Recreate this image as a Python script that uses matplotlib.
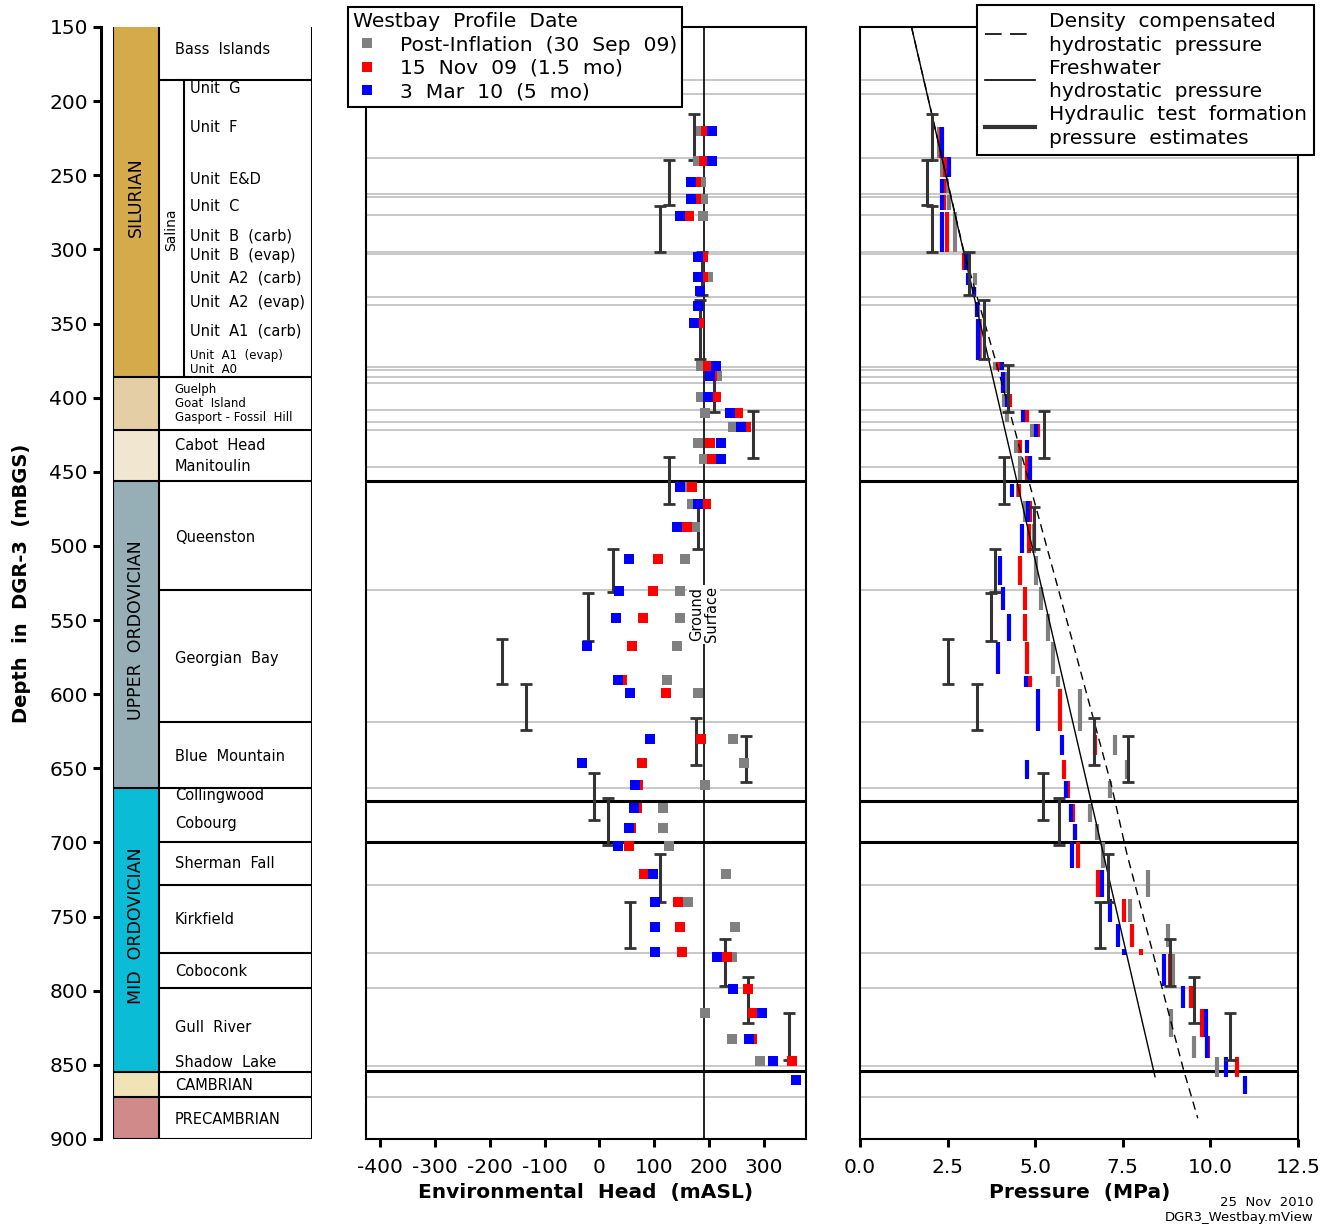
"""
DGR-3 Westbay profiles: environmental head and pressure versus depth,
with the stratigraphic column on the left.
"""

import numpy as np
import matplotlib.pyplot as plt
from matplotlib.lines import Line2D

plt.rcParams['font.family'] = ['DejaVu Sans']
plt.rcParams['axes.unicode_minus'] = False

# Westbay monitoring zones (mBGS): port depth and zone bottom
port_depth = np.array([219.9, 240.4, 254.8, 265.8, 277.5, 304.9, 318.4, 327.8, 338.2, 349.4,
                       378.4, 385.4, 399.8, 410.6, 420.0, 430.8, 441.6, 460.5, 471.9, 487.4,
                       509.0, 530.4, 548.4, 567.5, 590.4, 599.0, 630.0, 646.6, 661.2, 676.5,
                       690.0, 702.2, 721.2, 740.3, 757.2, 774.1, 777.5, 799.0, 814.8, 832.8,
                       847.2, 860.2])
zone_bottom = np.array([238.6, 251.0, 261.7, 273.4, 301.5, 313.9, 324.0, 332.0, 345.4, 374.6,
                        381.3, 397.0, 406.0, 416.2, 426.3, 437.3, 455.5, 466.8, 483.6, 504.8,
                        526.3, 543.2, 563.9, 586.4, 595.0, 624.8, 641.0, 657.2, 670.2, 686.0,
                        698.5, 717.4, 736.6, 753.4, 770.3, 775.9, 797.0, 811.8, 831.0, 845.6,
                        857.9, 869.4])

nan = np.nan
# Environmental head (mASL)
head_post = np.array([185, 180, 186, 189, 189, 185, 197, 183, 179, 178,
                      185, 215, 185, 192, 243, 180, 191, 165, 169, 174,
                      156, 147, 147, 141, 124, 179, 244, 263, 192, 116,
                      116, 127, 231, 161, 247, nan, 241, nan, 192, 241,
                      293, nan])
head_nov = np.array([195, 191, 176, 176, 164, 188, 188, 183, 179, 182,
                     197, 205, 212, 252, 268, 202, 205, 169, 195, 159,
                     107, 98, 79, 59, 41, 121, 185, 78, 70, 68,
                     57, 53, 81, 144, 147, 150, 232, 270, 280, 278,
                     351, nan])
head_mar = np.array([205, 205, 166, 166, 147, 179, 179, 183, 179, 172,
                     212, 202, 198, 238, 258, 221, 221, 147, 179, 141,
                     53, 36, 30, -22, 33, 56, 92, -31, 65, 63,
                     53, 33, 98, 101, 101, 101, 214, 244, 296, 273,
                     316, 358])

# Formation pressure (MPa)
pres_post = np.array([2.25, 2.33, 2.47, 2.55, 2.71, 3.05, 3.28, 3.26, 3.36, 3.42,
                      3.85, 4.15, 4.10, 4.20, 4.90, 4.45, 4.57, 4.50, 4.70, 4.97,
                      5.02, 5.17, 5.37, 5.52, 5.66, 6.28, 7.28, 7.62, 7.13, 6.56,
                      6.75, 6.93, 8.21, 7.71, 8.78, nan, 8.92, nan, 8.88, 9.53,
                      10.20, nan])
pres_nov = np.array([2.30, 2.43, 2.40, 2.40, 2.47, 2.98, 3.12, 3.24, 3.34, 3.40,
                     3.93, 4.07, 4.28, 4.76, 5.08, 4.57, 4.76, 4.55, 4.85, 4.83,
                     4.57, 4.71, 4.71, 4.76, 4.84, 5.71, 6.70, 5.83, 5.95, 6.08,
                     6.15, 6.23, 6.80, 7.54, 7.75, 8.01, 8.85, 9.46, 9.75, 9.93,
                     10.75, nan])
pres_mar = np.array([2.33, 2.54, 2.33, 2.33, 2.33, 3.02, 3.09, 3.24, 3.33, 3.38,
                     4.04, 4.07, 4.20, 4.66, 5.02, 4.76, 4.85, 4.33, 4.80, 4.61,
                     4.00, 4.09, 4.26, 3.95, 4.75, 5.07, 5.76, 4.76, 5.88, 6.02,
                     6.14, 6.04, 6.90, 7.13, 7.35, 7.52, 8.69, 9.23, 9.87, 9.89,
                     10.45, 11.00])

# Hydraulic test intervals (mBGS) with head and formation pressure estimates
test_top = np.array([209, 240, 271, 302, 334, 378, 409, 440, 474, 502, 532,
                     563, 593, 616, 628, 653, 670, 708, 740, 765, 791, 815])
test_bot = np.array([240, 270, 302, 331, 374, 410, 441, 472, 502, 531, 564,
                     593, 624, 648, 659, 685, 702, 740, 771, 797, 822, 847])
test_head = np.array([172, 127, 110, 187, 183, 209, 279, 127, 179, 25, -20,
                      -178, -133, 176, 267, -10, 16, 110, 56, 228, 270, 346])
test_pres = np.array([2.06, 1.90, 2.06, 3.11, 3.54, 4.23, 5.25, 4.12, 4.97, 3.85, 3.74,
                      2.52, 3.33, 6.69, 7.66, 5.23, 5.68, 7.07, 6.85, 8.85, 9.53, 10.56])

# Hydrostatic profiles
fresh_depth = [150, 858]
fresh_pres = [1.47, 8.42]
dens_depth = [150, 300, 380, 447, 550, 662, 707, 853, 886]
dens_pres = [1.47, 2.95, 3.93, 4.71, 5.90, 7.18, 7.61, 9.23, 9.64]

ground_surface = 190  # mASL

# Formation boundaries drawn across the data panels
grey_bounds = [185.7, 195.2, 238.4, 262.6, 264.7, 276.8, 301.6, 303.0, 332.1, 337.5,
               379.3, 381.3, 386.1, 390.1, 408.3, 416.4, 421.8, 446.8, 529.7, 618.7,
               663.2, 728.7, 774.5, 798.1, 850.7, 871.6]
black_bounds = [456, 672, 700, 854]

# Stratigraphic column
period_top = [150, 386, 422, 456, 663, 855, 871.7]
period_bot = [386, 422, 456, 663, 855, 871.7, 900]
period_colors = ['#D4AA4B', '#E3CFA3', '#F1E6CF', '#96AEB6', '#0ABCD6', '#F0E3B5', '#D08A8A']
period_names = ['SILURIAN', '', '', 'UPPER  ORDOVICIAN', 'MID  ORDOVICIAN', '', '']
unit_bounds = [185.7, 529.7, 618.5, 700, 728.9, 774.7, 798.4]
formation_names = ['Bass  Islands', 'Cabot  Head', 'Manitoulin', 'Queenston', 'Georgian  Bay',
                   'Blue  Mountain', 'Collingwood', 'Cobourg', 'Sherman  Fall', 'Kirkfield',
                   'Coboconk', 'Gull  River', 'Shadow  Lake', 'CAMBRIAN', 'PRECAMBRIAN']
formation_depth = [165.5, 432, 446.7, 494.6, 576, 642,
                   668, 687.5, 714.5, 752, 787, 825, 848.7, 864, 887]
niagaran_names = ['Guelph', 'Goat  Island', 'Gasport - Fossil  Hill']
niagaran_depth = [394.5, 403.8, 413.1]
salina_units = ['Unit  G', 'Unit  F', 'Unit  E&D', 'Unit  C', 'Unit  B  (carb)', 'Unit  B  (evap)',
                'Unit  A2  (carb)', 'Unit  A2  (evap)', 'Unit  A1  (carb)', 'Unit  A1  (evap)',
                'Unit  A0']
salina_depth = [191.8, 218, 253, 271, 291, 304, 319.5, 336, 355, 371.5, 381]

W, H = 1335, 1228
fig = plt.figure(figsize=(W / 100, H / 100), dpi=100)


def px_axes(x0, x1, y0=27, y1=1139):
    return fig.add_axes([x0 / W, 1 - y1 / H, (x1 - x0) / W, (y1 - y0) / H])


# ---- stratigraphic column ----
ax_s = px_axes(113, 312)
ax_s.set_xlim(0, 1)
ax_s.set_ylim(900, 150)
col_x = 0.231
sal_x = 0.357
for top, bot, c, name in zip(period_top, period_bot, period_colors, period_names):
    ax_s.fill_between([0, col_x], top, bot, color=c, lw=0)
    ax_s.plot([0, 1], [bot, bot], color='black', lw=1.5)
    if name:
        ax_s.text(col_x / 2, (top + bot) / 2 - 3, name, rotation=90, ha='center',
                  va='center', fontsize=12.5)
for b in unit_bounds:
    ax_s.plot([col_x, 1], [b, b], color='black', lw=1.5)
for xv in [0, col_x, 1]:
    ax_s.plot([xv, xv], [150, 900], color='black', lw=1.5)
ax_s.plot([sal_x, sal_x], [185.7, 386], color='black', lw=1.5)
ax_s.text((col_x + sal_x) / 2, 287, 'Salina', rotation=90, ha='center', va='center',
          fontsize=10)
for name, d in zip(formation_names, formation_depth):
    ax_s.text(0.31, d, name, ha='left', va='center', fontsize=10.5)
for name, d in zip(niagaran_names, niagaran_depth):
    ax_s.text(0.31, d, name, ha='left', va='center', fontsize=8.5)
for name, d in zip(salina_units, salina_depth):
    ax_s.text(0.385, d, name, ha='left', va='center', fontsize=10.5 if d < 370 else 8.5)

for side in ['top', 'right', 'bottom']:
    ax_s.spines[side].set_visible(False)
ax_s.spines['left'].set_position(('outward', 9))
ax_s.spines['left'].set_linewidth(2.2)
ax_s.set_xticks([])
ax_s.set_yticks(np.arange(150, 901, 50))
ax_s.tick_params(axis='y', length=6, width=2.2, labelsize=14.5, pad=3)
ax_s.set_ylabel('Depth  in  DGR-3  (mBGS)', fontsize=14, fontweight='bold')
ax_s.yaxis.set_label_coords(-0.412, 0.5)

# ---- environmental head panel ----
ax_h = px_axes(366, 806)
ax_p = px_axes(860, 1298)

for ax in (ax_h, ax_p):
    ax.set_ylim(900, 150)
    for b in grey_bounds:
        ax.axhline(b, color='#C8C8C8', lw=1.4, zorder=1)
    for b in black_bounds:
        ax.axhline(b, color='black', lw=2.2, zorder=2)
    ax.set_yticks([])
    for sp in ax.spines.values():
        sp.set_linewidth(1.5)
    ax.tick_params(axis='x', length=6, width=2.2, labelsize=14.5, pad=8)

ax_h.set_xlim(-425.5, 376.5)
ax_h.set_xticks(np.arange(-400, 301, 100))
ax_h.axvline(ground_surface, color='black', lw=1.2, zorder=2)
ax_h.text(ground_surface, 546, 'Ground\nSurface', rotation=90, ha='center', va='center',
          fontsize=10.5, linespacing=1.0,
          bbox=dict(facecolor='white', edgecolor='none', pad=1), zorder=3)

ax_h.errorbar(test_head, (test_top + test_bot) / 2, yerr=(test_bot - test_top) / 2,
              fmt='none', ecolor='#333333', elinewidth=2.2, capsize=4, capthick=2, zorder=4)
ax_h.plot(head_post, port_depth, 's', color='#808080', ms=7.5, mew=0, zorder=5,
          label='Post-Inflation  (30  Sep  09)')
ax_h.plot(head_nov, port_depth, 's', color='#FF0000', ms=7.5, mew=0, zorder=6,
          label='15  Nov  09  (1.5  mo)')
ax_h.plot(head_mar, port_depth, 's', color='#0000FF', ms=7.5, mew=0, zorder=7,
          label='3  Mar  10  (5  mo)')
ax_h.set_xlabel('Environmental  Head  (mASL)', fontsize=14.5, fontweight='bold')
ax_h.xaxis.set_label_coords(0.5, -0.0395)

leg_h = ax_h.legend(loc='upper left', bbox_to_anchor=(348 / W, 1 - 7 / H),
                    bbox_transform=fig.transFigure, title='Westbay  Profile  Date',
                    fontsize=14.6, title_fontsize=14.6, frameon=True, fancybox=False,
                    framealpha=1, edgecolor='black', borderpad=0.25, handletextpad=0.9,
                    labelspacing=0.22, handlelength=1.4, alignment='left',
                    borderaxespad=0)
leg_h.get_frame().set_linewidth(1.5)
leg_h.set_zorder(10)

# ---- pressure panel ----
ax_p.set_xlim(0, 12.5)
ax_p.set_xticks(np.arange(0, 12.6, 2.5))
ax_p.xaxis.set_major_formatter(plt.FormatStrFormatter('%.1f'))
ax_p.plot(fresh_pres, fresh_depth, color='black', lw=1.0, zorder=6)
ax_p.plot(dens_pres, dens_depth, color='black', lw=1.0, ls=(0, (6, 4)), zorder=6)
bar_top = port_depth - 2.5
ax_p.vlines(pres_post, bar_top, zone_bottom, color='#808080', lw=3, zorder=3)
ax_p.vlines(pres_nov, bar_top, zone_bottom, color='#FF0000', lw=3, zorder=4)
ax_p.vlines(pres_mar, bar_top, zone_bottom, color='#0000FF', lw=3, zorder=5)
ax_p.errorbar(test_pres, (test_top + test_bot) / 2, yerr=(test_bot - test_top) / 2,
              fmt='none', ecolor='#333333', elinewidth=2.2, capsize=4, capthick=2, zorder=7)
ax_p.set_xlabel('Pressure  (MPa)', fontsize=14.5, fontweight='bold')
ax_p.xaxis.set_label_coords(0.502, -0.0395)

p_handles = [Line2D([], [], color='black', lw=1.2, ls=(0, (10, 5))),
             Line2D([], [], color='black', lw=1.2),
             Line2D([], [], color='#333333', lw=3)]
p_labels = ['Density  compensated\nhydrostatic  pressure',
            'Freshwater\nhydrostatic  pressure',
            'Hydraulic  test  formation\npressure  estimates']
leg_p = ax_p.legend(p_handles, p_labels, loc='upper right',
                    bbox_to_anchor=(1314 / W, 1 - 5 / H), bbox_transform=fig.transFigure,
                    fontsize=14.5, frameon=True, fancybox=False, framealpha=1,
                    edgecolor='black', borderpad=0.35, handletextpad=0.7, labelspacing=0.2,
                    handlelength=2.5, borderaxespad=0)
for t in leg_p.get_texts():
    t.set_linespacing(1.3)
leg_p.get_frame().set_linewidth(1.5)
leg_p.set_zorder(10)

fig.text(1314 / W, 1 - 1203 / H, '25  Nov  2010', ha='right', va='center', fontsize=9.5)
fig.text(1314 / W, 1 - 1218 / H, 'DGR3_Westbay.mView', ha='right', va='center', fontsize=9.5)

fig.savefig('out.png', dpi=100)
